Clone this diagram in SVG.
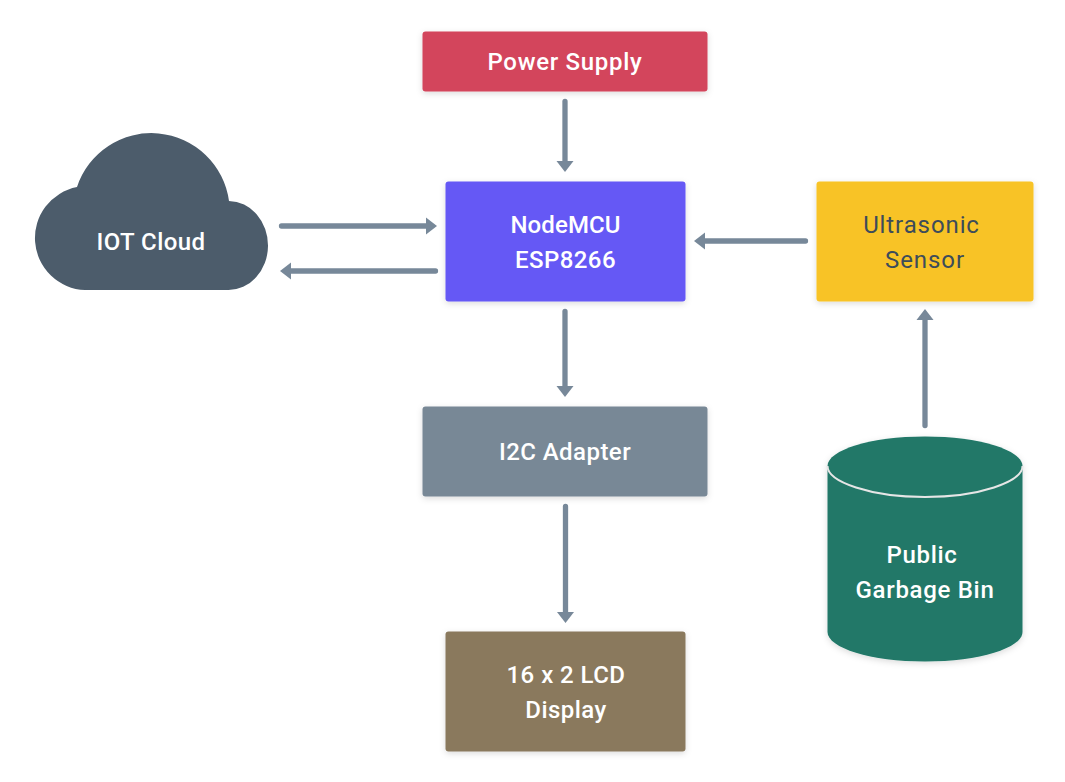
<svg xmlns="http://www.w3.org/2000/svg" width="1065" height="782" viewBox="0 0 1065 782">
<defs>
<filter id="sh" x="-10%" y="-15%" width="120%" height="135%"><feDropShadow dx="0" dy="2" stdDeviation="3" flood-color="#000" flood-opacity="0.14"/></filter>
<marker id="ah" markerUnits="userSpaceOnUse" markerWidth="12" markerHeight="18" refX="0" refY="9" orient="auto"><path d="M0 0.500L11 9L0 17.500Z" fill="#778899"/></marker>
</defs>
<style>
text{font-family:"Roboto","Liberation Sans",sans-serif;font-size:24px;font-weight:500;fill:#fff;text-anchor:middle;letter-spacing:.7px}
.dark{fill:#3d4c5a;font-weight:400;letter-spacing:.9px}
.tight{letter-spacing:.1px}
.mid{letter-spacing:.45px}
.box{filter:url(#sh)}
.c{stroke:#778899;stroke-width:5.300;stroke-linecap:round;fill:none;marker-end:url(#ah)}
</style>
<rect width="1065" height="782" fill="#fff"/>
<g id="power-supply"><rect class="box" x="422.500" y="31.500" width="285" height="60" rx="3" fill="#d3455b"/><text x="565" y="70">Power Supply</text></g>
<g id="nodemcu"><rect class="box" x="445.500" y="181.500" width="240" height="120" rx="3" fill="#6558f5"/><text class="tight" x="565.500" y="233">NodeMCU</text><text class="mid" x="565.500" y="268">ESP8266</text></g>
<g id="ultrasonic-sensor"><rect class="box" x="816.500" y="181.500" width="217" height="120" rx="3" fill="#f8c325"/><text class="dark" x="921.500" y="233">Ultrasonic</text><text class="dark" x="925" y="268">Sensor</text></g>
<g id="i2c-adapter"><rect class="box" x="422.500" y="406.500" width="285" height="90" rx="3" fill="#788896"/><text class="mid" x="565" y="460">I2C Adapter</text></g>
<g id="lcd-display"><rect class="box" x="445.500" y="631.500" width="240" height="120" rx="3" fill="#8a795d"/><text class="mid" x="566" y="683">16 x 2 LCD</text><text class="mid" x="566" y="718">Display</text></g>
<g id="iot-cloud"><path d="M77 187A78.300 78.300 0 0 1 229 201A39.500 44.500 0 0 1 228 290H85A52 52 0 0 1 77 187Z" fill="#4c5c6b"/><text class="mid" x="151" y="250">IOT Cloud</text></g>
<g id="garbage-bin"><path class="box" d="M827.500 466C827.500 450 871 436.500 925 436.500S1022.500 450 1022.500 466V632C1022.500 648 979 661.500 925 661.500S827.500 648 827.500 632Z" fill="#207868"/><path d="M827.500 466C827.500 482 871 497 925 497S1022.500 482 1022.500 466" fill="none" stroke="#e6e6e6" stroke-width="2"/><text x="922" y="563">Public</text><text x="925" y="598">Garbage Bin</text></g>
<g id="connectors">
<path class="c" d="M565 101.500V161"/>
<path class="c" d="M281.500 226H426"/>
<path class="c" d="M435.500 271H291"/>
<path class="c" d="M805.500 241H705"/>
<path class="c" d="M565 311.500V386"/>
<path class="c" d="M565.500 506.500V612"/>
<path class="c" d="M925 425.500V320"/>
</g>
</svg>
